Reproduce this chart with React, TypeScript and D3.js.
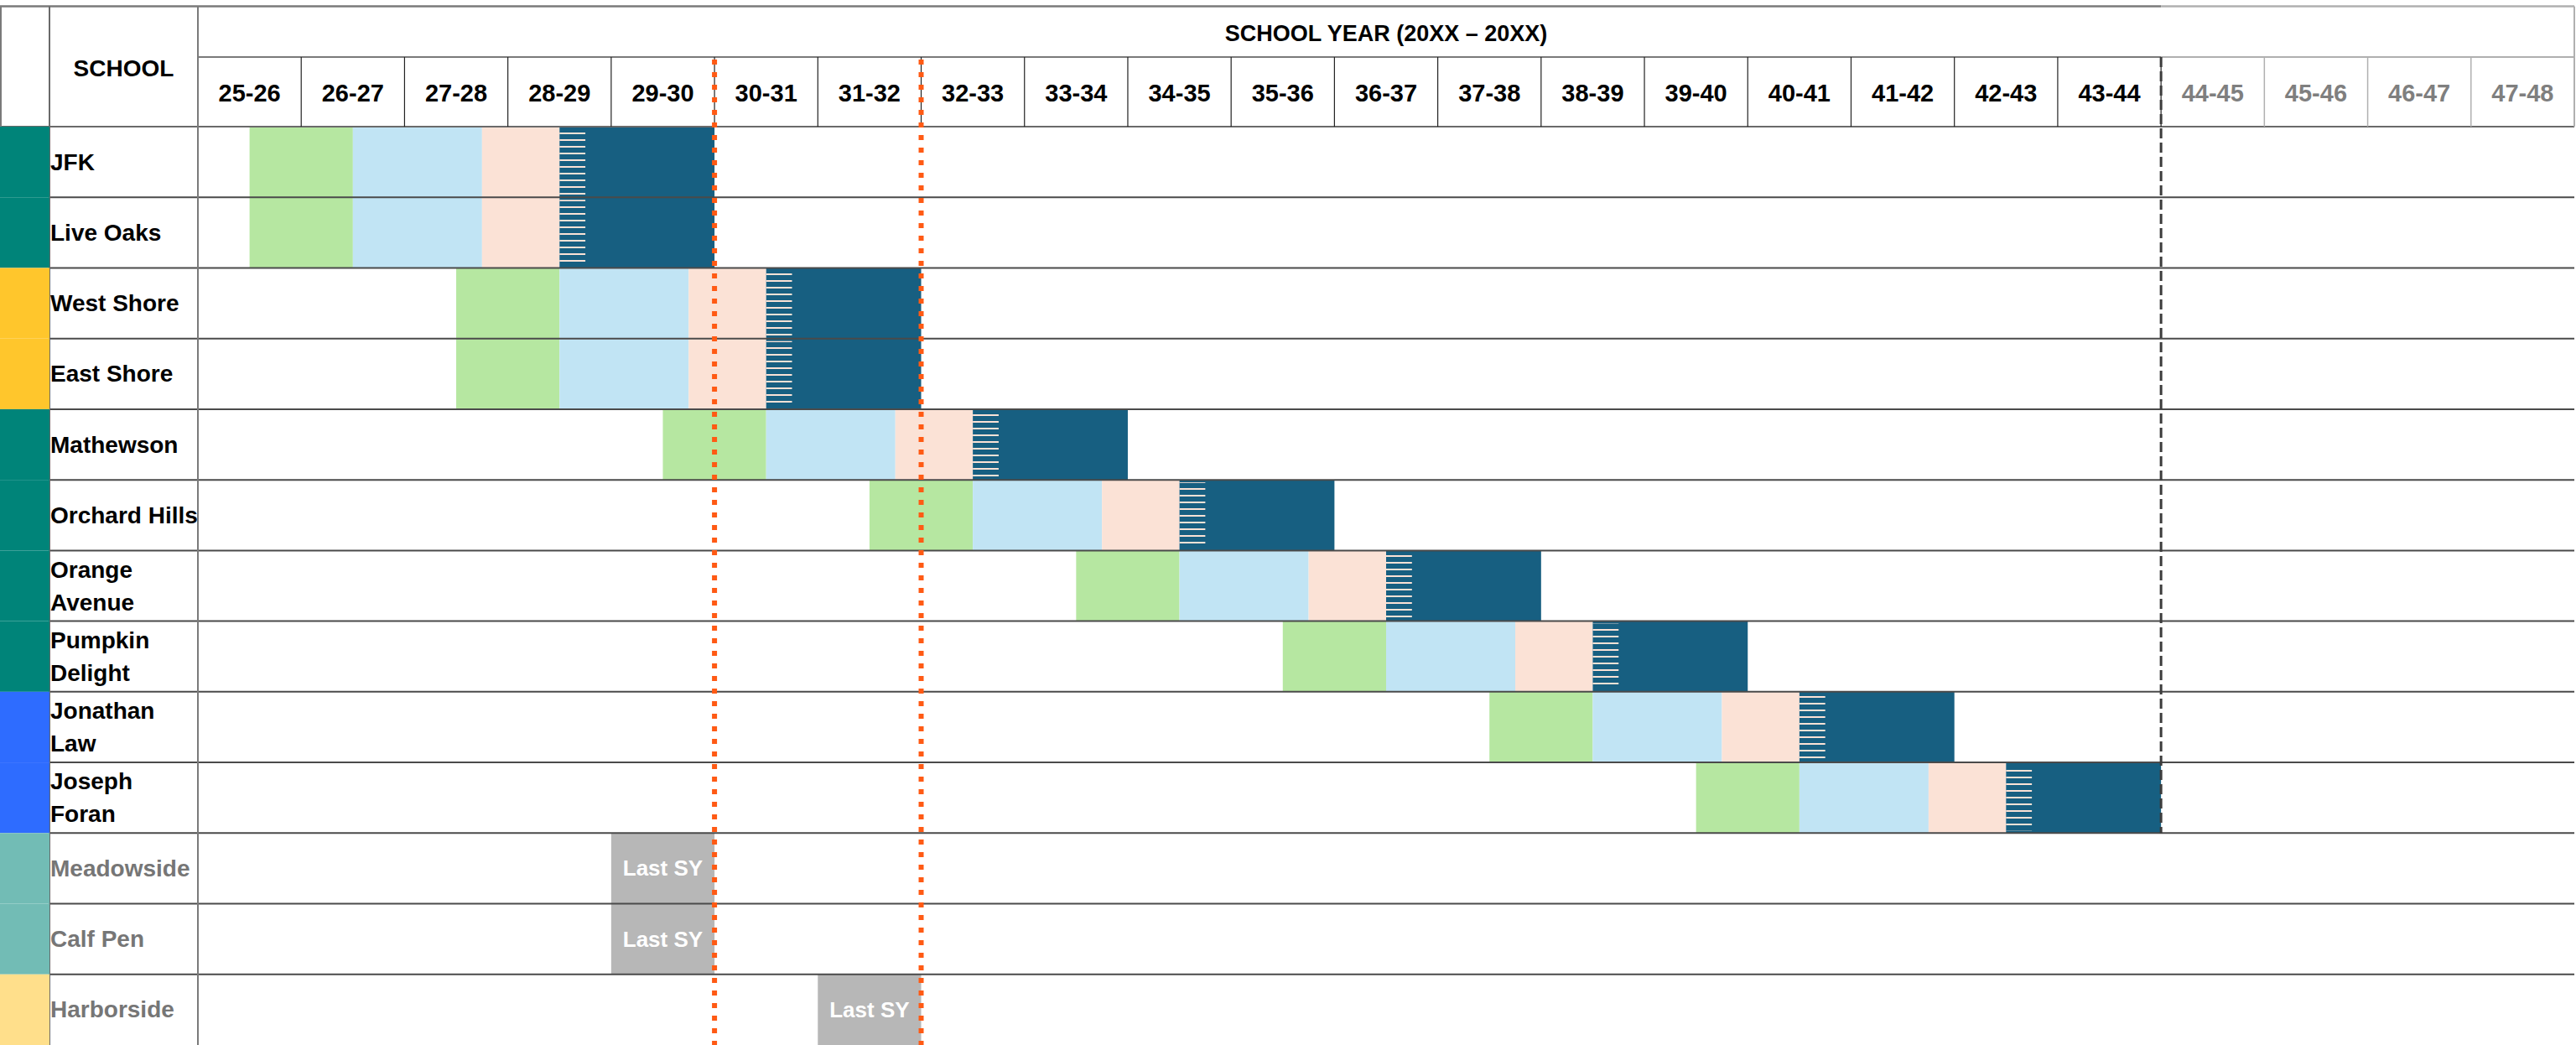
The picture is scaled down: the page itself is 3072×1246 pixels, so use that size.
import React from "react";
import * as d3 from "d3";

// school years shown in the header (last 4 are greyed out)
const years = [
    "25-26", "26-27", "27-28", "28-29", "29-30", "30-31", "31-32", "32-33",
    "33-34", "34-35", "35-36", "36-37", "37-38", "38-39", "39-40", "40-41",
    "41-42", "42-43", "43-44", "44-45", "45-46", "46-47", "47-48",
];
const activeYearCount = 19;

// schools with a project schedule
const schools = [
    "JFK", "Live Oaks", "West Shore", "East Shore", "Mathewson", "Orchard Hills",
    "Orange Avenue", "Pumpkin Delight", "Jonathan Law", "Joseph Foran",
];
const schoolLabels = [
    "JFK", "Live Oaks", "West Shore", "East Shore", "Mathewson", "Orchard Hills",
    "Orange\nAvenue", "Pumpkin\nDelight", "Jonathan\nLaw", "Joseph\nForan",
];
// start of the first phase, in school years from 25-26
const schoolStart = [0.5, 0.5, 2.5, 2.5, 4.5, 6.5, 8.5, 10.5, 12.5, 14.5];
const schoolGroup = ["teal", "teal", "amber", "amber", "teal", "teal", "teal", "teal", "blue", "blue"];

// phases (length in school years)
const phaseNames = ["phase 1", "phase 2", "phase 3", "phase 4"];
const phaseLength = [1, 1.25, 0.75, 1.5];
const phaseColor = ["#b6e7a1", "#c1e4f4", "#fbe2d6", "#175f81"];
const hatchLength = 0.25; // striped start of the last phase

// schools that close
const closingSchools = ["Meadowside", "Calf Pen", "Harborside"];
const closingGroup = ["tealLight", "tealLight", "amberLight"];
const closingLastYear = ["29-30", "29-30", "31-32"];

// markers
const redLineAfter = ["29-30", "31-32"];
const dashLineAfter = "43-44";

const groupColor: Record<string, string> = {
    teal: "#008479",
    amber: "#ffc62c",
    blue: "#2e6cff",
    tealLight: "#72bcb5",
    amberLight: "#ffdf8b",
};

const W = 3072;
const H = 1246;

export default function App() {
    const stripX = 0;
    const nameX = 59;
    const gridX0 = 236;
    const gridX1 = 3070;
    const topY = 7.5;
    const midY = 68;
    const headY = 151;

    const x = d3.scaleLinear().domain([0, years.length]).range([gridX0, gridX1]);
    const rows = [...schools, ...closingSchools];
    const y = d3.scaleBand<string>().domain(rows).range([headY, H]);
    const rh = y.bandwidth();

    const starts = [0, ...d3.cumsum(phaseLength)];
    const font = "'Liberation Sans', Arial, sans-serif";

    const yearEnd = (yr: string) => years.indexOf(yr) + 1;
    const activeEnd = x(activeYearCount);

    return (
        <svg width={W} height={H} style={{ position: "absolute", left: 0, top: 0, background: "#fff" }}>
            <defs>
                <pattern id="hatch" patternUnits="userSpaceOnUse" width={20} height={8} y={6}>
                    <rect x={0} y={0} width={20} height={2} fill="#fbe2d6" />
                </pattern>
            </defs>

            {/* phase bars */}
            {schools.map((s, i) => (
                <g key={s}>
                    {phaseNames.map((p, j) => (
                        <rect
                            key={p}
                            x={x(schoolStart[i] + starts[j])}
                            y={y(s)}
                            width={x(schoolStart[i] + starts[j + 1]) - x(schoolStart[i] + starts[j])}
                            height={rh}
                            fill={phaseColor[j]}
                        />
                    ))}
                    <rect
                        x={x(schoolStart[i] + starts[3])}
                        y={(y(s) ?? 0) + 3}
                        width={x(hatchLength) - x(0)}
                        height={rh - 6}
                        fill="url(#hatch)"
                    />
                </g>
            ))}

            {/* last school year boxes */}
            {closingSchools.map((s, i) => {
                const e = yearEnd(closingLastYear[i]);
                return (
                    <g key={s}>
                        <rect x={x(e - 1)} y={y(s)} width={x(e) - x(e - 1)} height={rh} fill="#b7b7b7" />
                        <text
                            x={(x(e - 1) + x(e)) / 2}
                            y={(y(s) ?? 0) + rh / 2}
                            textAnchor="middle"
                            dominantBaseline="central"
                            fill="#fff"
                            fontFamily={font}
                            fontWeight="bold"
                            fontSize={26}
                        >
                            Last SY
                        </text>
                    </g>
                );
            })}

            {/* row lines */}
            {rows.slice(1).map((s) => (
                <line key={s} x1={nameX} x2={gridX1} y1={y(s)} y2={y(s)} stroke="#4a4a4a" strokeWidth={2} />
            ))}

            {/* header grid */}
            <line x1={0} x2={activeEnd} y1={topY} y2={topY} stroke="#7a7a7a" strokeWidth={2.5} />
            <line x1={activeEnd} x2={gridX1} y1={topY} y2={topY} stroke="#b0b0b0" strokeWidth={2.5} />
            <line x1={gridX0} x2={activeEnd} y1={midY} y2={midY} stroke="#7a7a7a" strokeWidth={2} />
            <line x1={activeEnd} x2={gridX1} y1={midY} y2={midY} stroke="#b0b0b0" strokeWidth={2} />
            <line x1={0} x2={gridX1} y1={headY} y2={headY} stroke="#6a6a6a" strokeWidth={2} />
            <line x1={1} x2={1} y1={topY} y2={headY} stroke="#7a7a7a" strokeWidth={2} />
            <line x1={nameX} x2={nameX} y1={topY} y2={H} stroke="#6a6a6a" strokeWidth={2} />
            <line x1={gridX0} x2={gridX0} y1={topY} y2={H} stroke="#7a7a7a" strokeWidth={2} />
            <line x1={gridX1} x2={gridX1} y1={topY} y2={headY} stroke="#b0b0b0" strokeWidth={2} />
            {years.slice(1).map((yr, i) => (
                <line
                    key={yr}
                    x1={x(i + 1)}
                    x2={x(i + 1)}
                    y1={midY}
                    y2={headY}
                    stroke={i + 1 > activeYearCount ? "#b0b0b0" : "#222"}
                    strokeWidth={i + 1 > activeYearCount ? 1.5 : 1.2}
                />
            ))}

            {/* colour strip */}
            {schools.map((s, i) => (
                <rect key={s} x={stripX} y={y(s)} width={nameX - stripX} height={rh} fill={groupColor[schoolGroup[i]]} />
            ))}
            {closingSchools.map((s, i) => (
                <rect key={s} x={stripX} y={y(s)} width={nameX - stripX} height={rh} fill={groupColor[closingGroup[i]]} />
            ))}

            {/* header text */}
            <text
                x={(nameX + gridX0) / 2}
                y={81}
                textAnchor="middle"
                dominantBaseline="central"
                fontFamily={font}
                fontWeight="bold"
                fontSize={28}
            >
                SCHOOL
            </text>
            <text
                x={(gridX0 + gridX1) / 2}
                y={40}
                textAnchor="middle"
                dominantBaseline="central"
                fontFamily={font}
                fontWeight="bold"
                fontSize={27}
            >
                SCHOOL YEAR (20XX – 20XX)
            </text>
            {years.map((yr, i) => (
                <text
                    key={yr}
                    x={(x(i) + x(i + 1)) / 2}
                    y={111}
                    textAnchor="middle"
                    dominantBaseline="central"
                    fontFamily={font}
                    fontWeight="bold"
                    fontSize={29}
                    fill={i >= activeYearCount ? "#7f7f7f" : "#000"}
                >
                    {yr}
                </text>
            ))}

            {/* school names */}
            {schools.map((s, i) => {
                const lines = schoolLabels[i].split("\n");
                const cy = (y(s) ?? 0) + rh / 2;
                return (
                    <text key={s} fontFamily={font} fontWeight="bold" fontSize={28} fill="#000">
                        {lines.map((ln, k) => (
                            <tspan key={k} x={nameX + 1} y={cy + (k - (lines.length - 1) / 2) * 39} dominantBaseline="central">
                                {ln}
                            </tspan>
                        ))}
                    </text>
                );
            })}
            {closingSchools.map((s) => (
                <text
                    key={s}
                    x={nameX + 1}
                    y={(y(s) ?? 0) + rh / 2}
                    dominantBaseline="central"
                    fontFamily={font}
                    fontWeight="bold"
                    fontSize={28}
                    fill="#767676"
                >
                    {s}
                </text>
            ))}

            {/* marker lines */}
            {redLineAfter.map((yr) => (
                <line
                    key={yr}
                    x1={x(yearEnd(yr))}
                    x2={x(yearEnd(yr))}
                    y1={midY + 3}
                    y2={H}
                    stroke="#ff5a14"
                    strokeWidth={6}
                    strokeDasharray="6 9"
                />
            ))}
            <line
                x1={x(yearEnd(dashLineAfter))}
                x2={x(yearEnd(dashLineAfter))}
                y1={midY}
                y2={y(closingSchools[0])}
                stroke="#3c3c3c"
                strokeWidth={3}
                strokeDasharray="12 5"
            />
        </svg>
    );
}
